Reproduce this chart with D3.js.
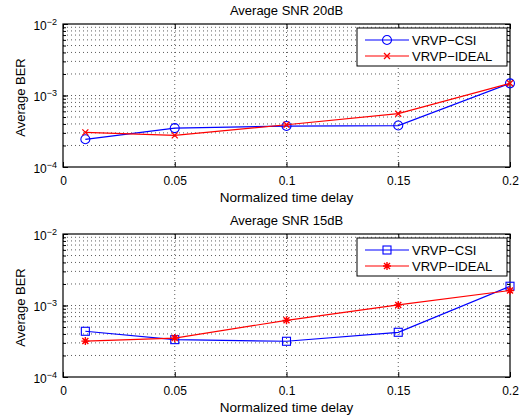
<html>
<head>
<meta charset="utf-8">
<script src="https://d3js.org/d3.v7.min.js"></script>
<style>
  body { margin: 0; background: #fff; }
  svg { font-family: "Liberation Sans", Arial, sans-serif; }
  .grid line { stroke: #333; stroke-width: 0.8; stroke-dasharray: 1,3; }
  .tick text { font-size: 12px; fill: #000; }
  .line { fill: none; stroke-width: 1.2; }
</style>
</head>
<body>
<div id="chart"></div>
<script>
// x values (normalized time delay)
var delays = [0.01, 0.05, 0.1, 0.15, 0.2];
var xTicks = [0, 0.05, 0.1, 0.15, 0.2];
var xTickLabels = ["0", "0.05", "0.1", "0.15", "0.2"];
var yDecades = [1e-4, 1e-3, 1e-2];
var yDecadeExp = ["\u22124", "\u22123", "\u22122"];

// SNR 20 dB panel
var csi20 = [2.44e-4, 3.5e-4, 3.74e-4, 3.8e-4, 1.48e-3];
var ideal20 = [3.05e-4, 2.77e-4, 3.9e-4, 5.57e-4, 1.48e-3];
// SNR 15 dB panel
var csi15 = [4.36e-4, 3.33e-4, 3.16e-4, 4.22e-4, 1.86e-3];
var ideal15 = [3.18e-4, 3.5e-4, 6.2e-4, 1.02e-3, 1.62e-3];

var seriesNames = ["VRVP\u2212CSI", "VRVP\u2212IDEAL"];

var W = 525, H = 416;
var left = 63, right = 510;

var svg = d3.select("#chart").append("svg")
    .attr("width", W).attr("height", H);

function marker(g, type, color) {
    if (type === "circle") {
        g.append("circle").attr("r", 4.5).attr("fill", "none").attr("stroke", color).attr("stroke-width", 1.1);
    } else if (type === "square") {
        g.append("rect").attr("x", -4).attr("y", -4).attr("width", 8).attr("height", 8)
            .attr("fill", "none").attr("stroke", color).attr("stroke-width", 1.1);
    } else if (type === "x") {
        g.append("path").attr("d", "M-3,-3L3,3M-3,3L3,-3").attr("stroke", color).attr("stroke-width", 1.3);
    } else if (type === "star") {
        g.append("path").attr("d", "M-4,0L4,0M0,-4L0,4M-3,-3L3,3M-3,3L3,-3").attr("stroke", color).attr("stroke-width", 1.4);
    }
}

function drawPanel(top, bottom, title, csi, ideal, markers) {
    var x = d3.scaleLinear().domain([0, 0.2]).range([left, right]);
    var y = d3.scaleLog().domain([1e-4, 1e-2]).range([bottom, top]);

    var minor = [];
    [1e-4, 1e-3].forEach(function(d) {
        for (var k = 1; k <= 9; k++) minor.push(d * k);
    });
    minor.push(1e-2);

    // grid
    var grid = svg.append("g").attr("class", "grid");
    grid.selectAll(".gy").data(minor.filter(function(v) { return v > 1e-4 && v < 1e-2; })).enter()
        .append("line")
        .attr("x1", left).attr("x2", right)
        .attr("y1", function(d) { return y(d); }).attr("y2", function(d) { return y(d); });
    grid.selectAll(".gx").data(xTicks.slice(1, -1)).enter()
        .append("line")
        .attr("y1", top).attr("y2", bottom)
        .attr("x1", function(d) { return x(d); }).attr("x2", function(d) { return x(d); });

    // axes with inward ticks
    var xAxis = d3.axisBottom(x).tickValues(xTicks).tickSize(-5).tickPadding(9)
        .tickFormat(function(d, i) { return xTickLabels[i]; });
    var gx = svg.append("g").attr("class", "x axis")
        .attr("transform", "translate(0," + bottom + ")").call(xAxis);
    gx.select(".domain").remove();
    var xTop = d3.axisTop(x).tickValues(xTicks).tickSize(-5).tickFormat("");
    svg.append("g").attr("transform", "translate(0," + top + ")").call(xTop).select(".domain").remove();

    var yMinor = d3.axisLeft(y).tickValues(minor).tickSize(-3).tickFormat("");
    svg.append("g").attr("transform", "translate(" + left + ",0)").call(yMinor).select(".domain").remove();
    var yMinorR = d3.axisRight(y).tickValues(minor).tickSize(-3).tickFormat("");
    svg.append("g").attr("transform", "translate(" + right + ",0)").call(yMinorR).select(".domain").remove();
    var yMajor = d3.axisLeft(y).tickValues(yDecades).tickSize(-5).tickPadding(5).tickFormat("");
    var gy = svg.append("g").attr("class", "y axis")
        .attr("transform", "translate(" + left + ",0)").call(yMajor);
    gy.select(".domain").remove();
    gy.selectAll(".tick").each(function(d, i) {
        var t = d3.select(this).append("text")
            .attr("x", -6).attr("dy", "0.45em").attr("text-anchor", "end")
            .attr("fill", "#000").style("font-size", "12px");
        t.append("tspan").text("10");
        t.append("tspan").attr("dy", "-0.6em").style("font-size", "9px").text(yDecadeExp[i]);
    });
    var yMajorR = d3.axisRight(y).tickValues(yDecades).tickSize(-5).tickFormat("");
    svg.append("g").attr("transform", "translate(" + right + ",0)").call(yMajorR).select(".domain").remove();

    svg.selectAll(".tick line").attr("stroke", "#000");

    // box
    svg.append("rect").attr("x", left).attr("y", top)
        .attr("width", right - left).attr("height", bottom - top)
        .attr("fill", "none").attr("stroke", "#000").attr("stroke-width", 1.2);

    // lines
    var line = d3.line().x(function(d) { return x(d[0]); }).y(function(d) { return y(d[1]); });
    var series = [
        { vals: csi, color: "#0000ff", m: markers[0] },
        { vals: ideal, color: "#ff0000", m: markers[1] }
    ];
    series.forEach(function(s) {
        var pts = delays.map(function(d, i) { return [d, s.vals[i]]; });
        svg.append("path").attr("class", "line").attr("d", line(pts)).attr("stroke", s.color);
        pts.forEach(function(p) {
            var g = svg.append("g").attr("transform", "translate(" + x(p[0]) + "," + y(p[1]) + ")");
            marker(g, s.m, s.color);
        });
    });

    // title and labels
    svg.append("text").attr("x", (left + right) / 2).attr("y", top - 9)
        .attr("text-anchor", "middle").style("font-size", "13px").text(title);
    svg.append("text").attr("x", (left + right) / 2).attr("y", bottom + 35)
        .attr("text-anchor", "middle").style("font-size", "13.5px").text("Normalized time delay");
    svg.append("text").attr("transform", "translate(25," + ((top + bottom) / 2 + 2) + ") rotate(-90)")
        .attr("text-anchor", "middle").style("font-size", "13px").text("Average BER");

    // legend
    var lg = svg.append("g").attr("transform", "translate(357," + (top + 4) + ")");
    lg.append("rect").attr("width", 150).attr("height", 38)
        .attr("fill", "#fff").attr("stroke", "#000").attr("stroke-width", 1);
    series.forEach(function(s, i) {
        var yy = 12 + i * 16;
        lg.append("line").attr("x1", 8).attr("x2", 52).attr("y1", yy).attr("y2", yy)
            .attr("stroke", s.color).attr("stroke-width", 1.2);
        marker(lg.append("g").attr("transform", "translate(30," + yy + ")"), s.m, s.color);
        lg.append("text").attr("x", 55).attr("y", yy + 5).style("font-size", "13px").text(seriesNames[i]);
    });
}

drawPanel(24, 167, "Average SNR 20dB", csi20, ideal20, ["circle", "x"]);
drawPanel(234, 377, "Average SNR 15dB", csi15, ideal15, ["square", "star"]);
</script>
</body>
</html>
